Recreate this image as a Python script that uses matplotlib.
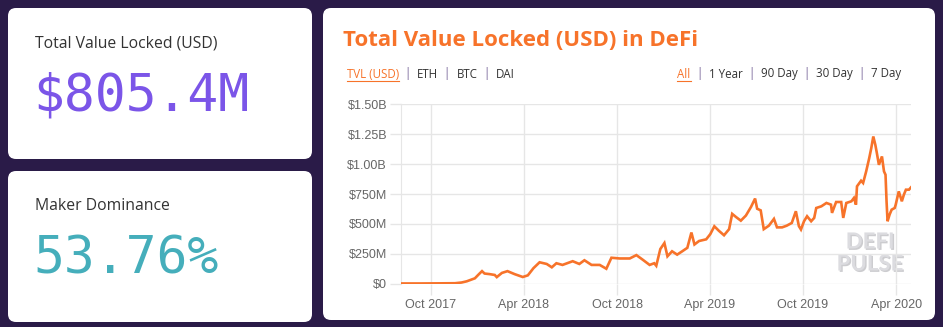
import matplotlib
matplotlib.use("Agg")

import pandas as pd
import matplotlib.pyplot as plt
import matplotlib.dates as mdates
from matplotlib.patches import FancyBboxPatch
from matplotlib import patheffects


# =====================================================
# DATA
# =====================================================

tvl_dates = [
    "2017-08-03", "2017-09-09", "2017-10-18", "2017-11-17", "2017-11-30",
    "2017-12-10", "2017-12-26", "2018-01-03", "2018-01-09", "2018-01-14",
    "2018-01-24", "2018-02-03", "2018-02-07", "2018-02-17", "2018-02-28",
    "2018-03-14", "2018-03-30", "2018-04-09", "2018-04-20", "2018-05-02",
    "2018-05-16", "2018-05-26", "2018-06-04", "2018-06-16", "2018-07-06",
    "2018-07-19", "2018-07-29", "2018-08-12", "2018-08-28", "2018-09-10",
    "2018-09-20", "2018-10-06", "2018-10-26", "2018-11-08", "2018-11-20",
    "2018-12-04", "2018-12-13", "2018-12-17", "2018-12-25", "2019-01-02",
    "2019-01-08", "2019-01-17", "2019-01-27", "2019-02-06", "2019-02-16",
    "2019-02-24", "2019-03-02", "2019-03-11", "2019-03-25", "2019-04-02",
    "2019-04-10", "2019-04-19", "2019-04-29", "2019-05-09", "2019-05-15",
    "2019-05-23", "2019-06-01", "2019-06-11", "2019-06-21", "2019-06-29",
    "2019-07-03", "2019-07-10", "2019-07-16", "2019-07-26", "2019-08-05",
    "2019-08-11", "2019-08-21", "2019-08-30", "2019-09-09", "2019-09-17",
    "2019-09-23", "2019-09-27", "2019-10-03", "2019-10-09", "2019-10-17",
    "2019-10-23", "2019-10-27", "2019-11-06", "2019-11-16", "2019-11-25",
    "2019-11-27", "2019-12-05", "2019-12-15", "2019-12-19", "2019-12-25",
    "2020-01-04", "2020-01-09", "2020-01-13", "2020-01-15", "2020-01-23",
    "2020-01-27", "2020-02-02", "2020-02-08", "2020-02-12", "2020-02-16",
    "2020-02-20", "2020-02-23", "2020-02-27", "2020-03-04", "2020-03-08",
    "2020-03-11", "2020-03-13", "2020-03-15", "2020-03-19", "2020-03-23",
    "2020-03-29", "2020-03-31", "2020-04-06", "2020-04-12", "2020-04-16",
    "2020-04-20", "2020-04-26", "2020-04-30",
]

# TVL in millions of USD
tvl_musd = [
    2, 2, 3, 4, 10,
    20, 45, 80, 105, 85,
    80, 73, 55, 90, 105,
    80, 56, 70, 130, 179,
    165, 137, 171, 157, 188,
    165, 196, 157, 157, 125,
    217, 211, 211, 239, 202,
    157, 171, 150, 290, 340,
    229, 271, 243, 271, 300,
    428, 328, 357, 371, 414,
    480, 442, 405, 456, 584,
    556, 527, 570, 642, 712,
    627, 613, 456, 485, 542,
    471, 471, 485, 508, 606,
    481, 453, 522, 564, 522,
    550, 633, 647, 675, 661,
    592, 683, 683, 550, 675,
    689, 717, 661, 814, 861,
    842, 939, 1050, 1133, 1231,
    1161, 1092, 994, 1064, 939,
    911, 689, 522, 578, 619,
    633, 661, 772, 689, 744,
    786, 786, 805.4,
]

y_ticks = [0, 250, 500, 750, 1000, 1250, 1500]
y_tick_labels = ["$0", "$250M", "$500M", "$750M", "$1.00B", "$1.25B", "$1.50B"]

metric_names = ["Total Value Locked (USD)", "Maker Dominance"]
metric_values = ["$805.4M", "53.76%"]

chart_title = "Total Value Locked (USD) in DeFi"
asset_options = ["TVL (USD)", "ETH", "BTC", "DAI"]
range_options = ["All", "1 Year", "90 Day", "30 Day", "7 Day"]


# =====================================================
# STYLE
# =====================================================

W, H = 943, 327

BG = "#2a1b48"
CARD = "#ffffff"
ORANGE = "#f7732a"
PURPLE = "#7b55e8"
TEAL = "#45aebb"
TEXT = "#333333"
SEP = "#6f5a92"
GRID = "#e6e6e6"
TICK = "#666666"

UI_FONT = "Open Sans"
MONO_FONT = "DejaVu Sans Mono"
AXIS_FONT = "Liberation Sans"


fig = plt.figure(figsize=(W / 100, H / 100), dpi=100, facecolor=BG)

# full-figure layer in pixel units for cards and text
bg = fig.add_axes([0, 0, 1, 1])
bg.set_xlim(0, W)
bg.set_ylim(H, 0)
bg.axis("off")
bg.set_facecolor(BG)


def card(x0, y0, x1, y1):
    bg.add_patch(FancyBboxPatch(
        (x0, y0), x1 - x0, y1 - y0,
        boxstyle="round,pad=0,rounding_size=8",
        facecolor=CARD, edgecolor="none"
    ))


card(8, 8, 312, 159)
card(8, 171, 312, 322)
card(323, 8, 935, 320)


# -----------------------------
# METRIC CARDS
# -----------------------------
for i, (name, value, color) in enumerate(
    zip(metric_names, metric_values, [PURPLE, TEAL])
):
    top = 8 + i * 163

    bg.text(
        35, top + 35, name,
        fontsize=11.3, color=TEXT, family=UI_FONT,
        va="center", ha="left"
    )

    bg.text(
        33, top + 88, value,
        fontsize=37, color=color, family=MONO_FONT,
        va="center", ha="left"
    )


# -----------------------------
# CHART CARD HEADER
# -----------------------------
bg.text(
    343, 41, chart_title,
    fontsize=16, color=ORANGE, family=UI_FONT, weight="bold",
    va="center", ha="left"
)

renderer = fig.canvas.get_renderer()


def option_row(options, x, y, align="left"):
    pieces = []
    for k, opt in enumerate(options):
        if k > 0:
            pieces.append(("  |  ", SEP, False))
        pieces.append((opt, ORANGE if k == 0 else TEXT, k == 0))

    texts = []
    widths = []
    for s, color, under in pieces:
        t = bg.text(
            0, y, s, fontsize=8.3, color=color, family=UI_FONT,
            va="center", ha="left"
        )
        texts.append((t, under))
        widths.append(t.get_window_extent(renderer).width)

    cur = x if align == "left" else x - sum(widths)
    for (t, under), w in zip(texts, widths):
        t.set_x(cur)
        if under:
            bg.plot([cur, cur + w], [y + 6.5, y + 6.5], color=ORANGE, lw=0.8)
        cur += w


option_row(asset_options, 347, 74, align="left")
option_row(range_options, 901, 74, align="right")


# =====================================================
# LINE CHART
# =====================================================

dates = pd.to_datetime(tvl_dates)
values = [v * 1e6 for v in tvl_musd]

ax = fig.add_axes([401 / W, 1 - 283.7 / H, 510 / W, 179.4 / H])
ax.set_facecolor("none")

ax.plot(dates, values, color=ORANGE, lw=1.9, solid_joinstyle="miter", zorder=3)

ax.set_xlim(dates[0], dates[-1])
ax.set_ylim(0, 1.5e9)

ax.set_yticks([v * 1e6 for v in y_ticks])
ax.set_yticklabels(y_tick_labels)

ax.xaxis.set_major_locator(mdates.MonthLocator(bymonth=[4, 10]))
ax.xaxis.set_major_formatter(mdates.DateFormatter("%b %Y"))

ax.grid(True, color=GRID, lw=1)
ax.set_axisbelow(True)

for side in ["top", "right", "bottom"]:
    ax.spines[side].set_visible(False)
ax.spines["left"].set_color(GRID)

ax.tick_params(
    axis="both", length=8, width=1, color=GRID,
    labelcolor=TICK, labelsize=9
)
ax.tick_params(axis="y", pad=2)
ax.tick_params(axis="x", pad=3)

for lbl in ax.get_xticklabels() + ax.get_yticklabels():
    lbl.set_family(AXIS_FONT)

# watermark
shadow = [patheffects.withSimplePatchShadow(offset=(1, -1), shadow_rgbFace="#9a9aa0", alpha=0.5)]
for word, y in [("DEFI", 242), ("PULSE", 264)]:
    bg.text(
        870, y, word,
        fontsize=16, color="#dcdce0", family="Lato", weight="bold",
        va="center", ha="center", path_effects=shadow, zorder=5
    )

fig.savefig("out.png", dpi=100, facecolor=BG)
